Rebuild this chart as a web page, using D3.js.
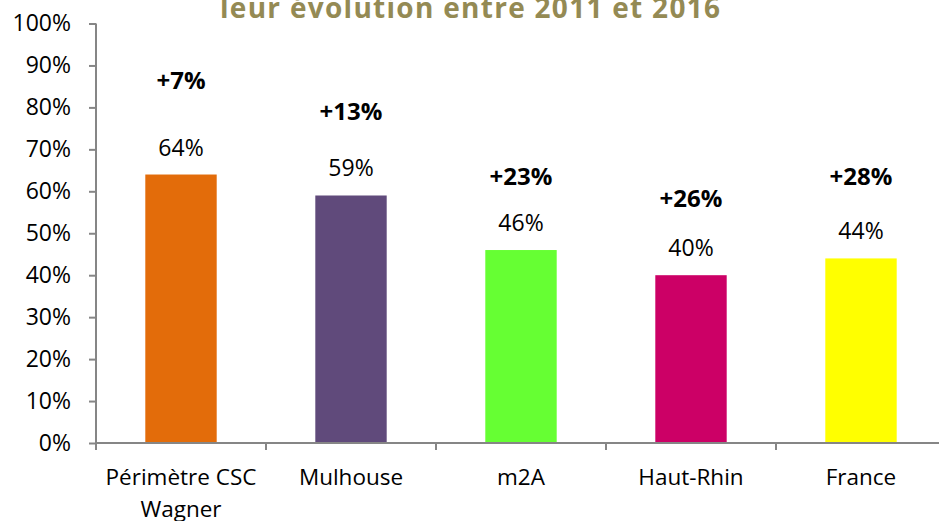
<!DOCTYPE html>
<html>
<head>
<meta charset="utf-8">
<script src="https://cdn.jsdelivr.net/npm/d3@7"></script>
<style>
  body { margin: 0; background: #fff; }
  text { font-family: "Open Sans", "Noto Sans", sans-serif; }
</style>
</head>
<body>
<div id="chart"></div>
<script>
// chart data
var categories = ["Périmètre CSC Wagner", "Mulhouse", "m2A", "Haut-Rhin", "France"];
var shares = [64, 59, 46, 40, 44];
var evolutions = ["+7%", "+13%", "+23%", "+26%", "+28%"];
// height (in % of the axis) where each evolution label sits
var evolutionLevels = [84.4, 77, 61.5, 56.3, 61.5];
var barColors = ["#e36c0a", "#604a7b", "#66ff33", "#cc0066", "#ffff00"];
var yTicks = [0, 10, 20, 30, 40, 50, 60, 70, 80, 90, 100];

var svgWidth = 939;
var svgHeight = 521;

var svg = d3.select("#chart")
  .append("svg")
  .attr("width", svgWidth)
  .attr("height", svgHeight);

// scales
var x = d3.scaleBand()
  .domain(categories)
  .range([96, 946])
  .paddingInner(0.58)
  .paddingOuter(0.29);

var y = d3.scaleLinear()
  .domain([0, 100])
  .range([443, 23.5]);

// title (cut at the top like the original)
svg.append("text")
  .attr("x", 470)
  .attr("y", 18)
  .attr("text-anchor", "middle")
  .attr("font-size", "28px")
  .attr("font-weight", "bold")
  .attr("fill", "#948a54")
  .attr("textLength", 500)
  .attr("lengthAdjust", "spacing")
  .text("leur évolution entre 2011 et 2016");

// y axis
var yAxis = svg.append("g")
  .attr("transform", "translate(96,0)")
  .call(d3.axisLeft(y)
    .tickValues(yTicks)
    .tickSize(7)
    .tickPadding(18)
    .tickFormat(d => d + "%"));

yAxis.select(".domain")
  .attr("stroke", "#868686")
  .attr("stroke-width", 2)
  .attr("d", "M0," + y(100) + "V" + y(0));
yAxis.selectAll(".tick line").attr("stroke", "#868686").attr("stroke-width", 2);
yAxis.selectAll(".tick text")
  .attr("font-size", "23px")
  .attr("fill", "#000")
  .attr("font-family", "'Open Sans', sans-serif");

// bars
svg.selectAll("rect.bar")
  .data(shares)
  .enter()
  .append("rect")
  .attr("class", "bar")
  .attr("x", (d, i) => x(categories[i]))
  .attr("y", d => y(d))
  .attr("width", x.bandwidth())
  .attr("height", d => y(0) - y(d))
  .attr("fill", (d, i) => barColors[i]);

// x axis line and band ticks
var gap = (x.step() - x.bandwidth()) / 2;
var bounds = categories.map(c => x(c) - gap);
bounds.push(x(categories[categories.length - 1]) + x.bandwidth() + gap);

svg.append("line")
  .attr("x1", 96)
  .attr("x2", svgWidth)
  .attr("y1", y(0))
  .attr("y2", y(0))
  .attr("stroke", "#868686")
  .attr("stroke-width", 2);

svg.selectAll("line.xtick")
  .data(bounds)
  .enter()
  .append("line")
  .attr("class", "xtick")
  .attr("x1", d => d)
  .attr("x2", d => d)
  .attr("y1", y(0))
  .attr("y2", y(0) + 7)
  .attr("stroke", "#868686")
  .attr("stroke-width", 2);

// category labels (wrapped like the original)
var catLines = [["Périmètre CSC", "Wagner"], ["Mulhouse"], ["m2A"], ["Haut-Rhin"], ["France"]];
var catText = svg.selectAll("text.cat")
  .data(categories)
  .enter()
  .append("text")
  .attr("class", "cat")
  .attr("text-anchor", "middle")
  .attr("font-size", "22.5px")
  .attr("fill", "#000")
  .attr("y", y(0) + 42);

catText.each(function(d, i) {
  var t = d3.select(this);
  catLines[i].forEach(function(line, j) {
    t.append("tspan")
      .attr("x", x(d) + x.bandwidth() / 2)
      .attr("dy", j === 0 ? 0 : 32)
      .text(line);
  });
});

// value labels
svg.selectAll("text.val")
  .data(shares)
  .enter()
  .append("text")
  .attr("class", "val")
  .attr("x", (d, i) => x(categories[i]) + x.bandwidth() / 2)
  .attr("y", d => y(d) - 19)
  .attr("text-anchor", "middle")
  .attr("font-size", "23px")
  .attr("fill", "#000")
  .text(d => d + "%");

// evolution labels
svg.selectAll("text.evo")
  .data(evolutions)
  .enter()
  .append("text")
  .attr("class", "evo")
  .attr("x", (d, i) => x(categories[i]) + x.bandwidth() / 2)
  .attr("y", (d, i) => y(evolutionLevels[i]))
  .attr("text-anchor", "middle")
  .attr("font-size", "24px")
  .attr("font-weight", "bold")
  .attr("fill", "#000")
  .text(d => d);
</script>
</body>
</html>
